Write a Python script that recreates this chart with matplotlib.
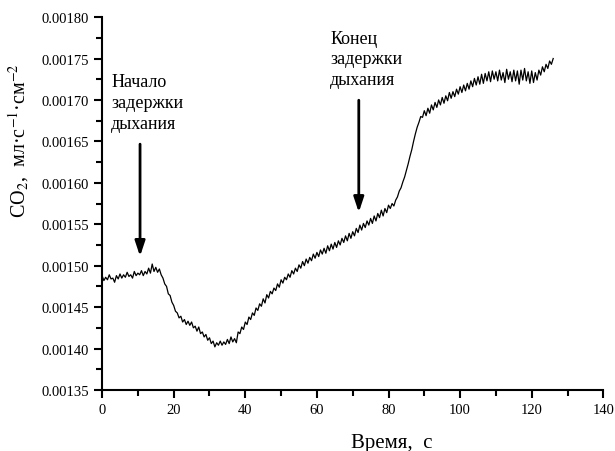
import numpy as np
import matplotlib
matplotlib.use("Agg")
import matplotlib.pyplot as plt
from matplotlib.ticker import MultipleLocator, FormatStrFormatter

plt.rcParams['font.family'] = ['Liberation Serif', 'DejaVu Serif']
plt.rcParams['mathtext.fontset'] = 'stix'

# CO2, units of 1e-5 ml/s/cm2, every 0.5 s
co2 = [148.8, 148.2, 148.6, 148.3, 148.9, 148.4, 148.5, 148.0, 148.8, 148.4,
       149.0, 148.5, 148.9, 148.6, 149.2, 148.7, 148.9, 148.5, 149.3, 148.8,
       149.1, 148.9, 149.4, 148.8, 149.3, 149.0, 149.7, 149.1, 150.2, 149.3,
       149.8, 149.2, 149.6, 148.9, 148.5, 147.8, 147.5, 146.6, 146.4, 145.6,
       145.2, 144.5, 144.3, 143.7, 143.9, 143.2, 143.5, 142.9, 143.3, 142.8,
       143.2, 142.5, 142.7, 142.1, 142.6, 141.8, 142.0, 141.4, 141.7, 141.0,
       141.3, 140.6, 140.9, 140.2, 140.7, 140.4, 140.9, 140.4, 140.8, 140.5,
       141.1, 140.6, 141.4, 140.8, 141.2, 140.7, 142.0, 141.8, 142.6, 142.3,
       143.2, 142.9, 143.8, 143.5, 144.3, 144.0, 144.9, 144.6, 145.4, 145.1,
       146.0, 145.5, 146.5, 146.1, 146.9, 146.6, 147.3, 147.0, 147.8, 147.4,
       148.3, 147.9, 148.6, 148.3, 149.0, 148.6, 149.4, 149.0, 149.7, 149.3,
       150.1, 149.7, 150.5, 150.0, 150.8, 150.3, 151.0, 150.6, 151.4, 150.9,
       151.6, 151.1, 151.9, 151.4, 152.1, 151.5, 152.4, 151.8, 152.6, 152.0,
       152.8, 152.2, 153.0, 152.5, 153.3, 152.8, 153.6, 153.0, 153.9, 153.3,
       154.1, 153.6, 154.5, 154.0, 154.9, 154.3, 155.1, 154.6, 155.4, 154.9,
       155.7, 155.1, 156.0, 155.4, 156.3, 155.8, 156.7, 156.0, 156.9, 156.4,
       157.3, 156.9, 157.5, 157.2, 157.9, 158.3, 159.0, 159.4, 160.1, 160.7,
       161.5, 162.3, 163.2, 164.0, 165.0, 165.9, 166.7, 167.3, 168.0, 167.9,
       168.7, 168.1, 169.0, 168.4, 169.4, 168.8, 169.7, 169.1, 170.0, 169.4,
       170.3, 169.6, 170.5, 169.9, 170.9, 170.2, 171.0, 170.4, 171.3, 170.7,
       171.6, 170.9, 171.8, 171.1, 172.0, 171.3, 172.3, 171.6, 172.6, 171.8,
       172.8, 171.9, 173.1, 172.0, 173.2, 172.3, 173.4, 172.2, 173.5, 172.5,
       173.4, 172.3, 173.6, 172.4, 173.3, 172.1, 173.7, 172.5, 173.4, 172.2,
       173.6, 172.3, 173.5, 171.9, 173.6, 172.4, 173.8, 172.3, 173.4, 172.0,
       173.5, 172.1, 173.3, 172.4, 173.6, 173.0, 174.0, 173.4, 174.3, 173.8,
       174.7, 174.3, 175.0]
co2 = np.array(co2) * 1e-5
t = np.arange(len(co2)) * 0.5   # time, s

fig = plt.figure(figsize=(6.15, 4.52), dpi=100)
ax = fig.add_axes([0.166, 0.135, 0.815, 0.825])

ax.plot(t, co2, color='black', lw=0.9)

ax.set_xlim(0, 140)
ax.set_ylim(0.00135, 0.00180)
ax.xaxis.set_major_locator(MultipleLocator(20))
ax.xaxis.set_minor_locator(MultipleLocator(10))
ax.yaxis.set_major_locator(MultipleLocator(0.00005))
ax.yaxis.set_minor_locator(MultipleLocator(0.000025))
ax.yaxis.set_major_formatter(FormatStrFormatter('%.5f'))

for s in ['top', 'right']:
    ax.spines[s].set_visible(False)
for s in ['left', 'bottom']:
    ax.spines[s].set_linewidth(1.5)
ax.tick_params(which='major', direction='out', length=6, width=1.5, labelsize=10.5)
ax.tick_params(which='minor', direction='out', length=4, width=1.5)

ax.set_xlabel('Время,  с', fontsize=15)
ax.xaxis.set_label_coords(0.577, -0.115)
ax.set_ylabel('CO$_2$,  мл·с$^{-1}$·см$^{-2}$', fontsize=14.5)
ax.yaxis.set_label_coords(-0.142, 0.67)

arr = dict(arrowstyle='-|>,head_length=0.9,head_width=0.3', color='black', lw=2)
ax.annotate('', xy=(10.6, 0.001508), xytext=(10.6, 0.00165), arrowprops=arr)
ax.annotate('', xy=(71.7, 0.001561), xytext=(71.7, 0.001703), arrowprops=arr)

ax.text(2.5, 0.001732, 'Начало\nзадержки\nдыхания', fontsize=13,
        va='top', ha='left', linespacing=1.3)
ax.text(63.7, 0.001785, 'Конец\nзадержки\nдыхания', fontsize=13,
        va='top', ha='left', linespacing=1.3)

fig.savefig('out.png', dpi=100)
